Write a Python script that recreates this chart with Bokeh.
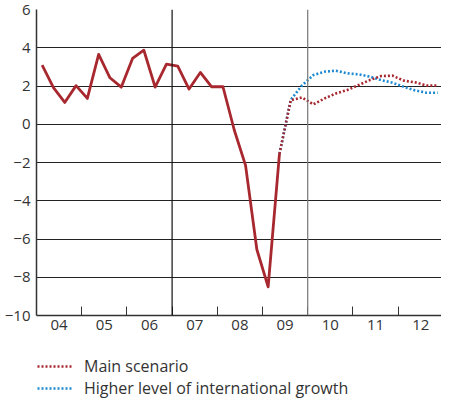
from bokeh.plotting import figure
from bokeh.layouts import column
from bokeh.models import Range1d, FixedTicker, Span, Legend, LegendItem
from bokeh.embed import file_html
from bokeh.resources import INLINE

# ---- data ----
years = ["04", "05", "06", "07", "08", "09", "10", "11", "12"]
first_year = 2004
# quarterly history 2004Q1 .. 2009Q2
history = [3.09, 1.91, 1.14, 2.02,
           1.35, 3.65, 2.43, 1.94,
           3.44, 3.87, 1.94, 3.14,
           3.04, 1.84, 2.71, 1.96,
           1.96, -0.30, -2.15, -6.55,
           -8.50, -1.55]
# forecasts 2009Q2 .. 2012Q4
main_scenario = [-1.55, 1.25, 1.40,
                 1.04, 1.35, 1.61, 1.79,
                 2.05, 2.31, 2.52, 2.54,
                 2.28, 2.19, 2.03, 2.03]
higher_growth = [-1.55, 1.28, 2.03,
                 2.57, 2.75, 2.80, 2.66,
                 2.61, 2.49, 2.31, 2.17,
                 1.96, 1.77, 1.65, 1.65]
series_names = ["Main scenario", "Higher level of international growth"]
forecast_start_index = 21  # 2009Q2
y_ticks = [-10, -8, -6, -4, -2, 0, 2, 4, 6]
separators = [2007, 2010]


def qx(i):
    return first_year + (i + 0.5) / 4.0


hist_x = [qx(i) for i in range(len(history))]
fc_x = [qx(forecast_start_index + i) for i in range(len(main_scenario))]

RED = "#a8282f"
BLUE = "#1f8ad2"
TXT = "#333333"
FONT = "Open Sans"

p = figure(width=441, height=345, output_backend="svg", toolbar_location=None,
           x_range=Range1d(2004, 2012.96), y_range=Range1d(-10, 6),
           min_border_left=36, min_border_right=0, min_border_top=9,
           min_border_bottom=30)
p.outline_line_color = None
p.background_fill_color = "white"
p.border_fill_color = "white"

# grid
p.xgrid.visible = False
p.ygrid.ticker = FixedTicker(ticks=y_ticks)
p.ygrid.grid_line_color = "#222222"
p.ygrid.grid_line_width = 1

for s, col in zip(separators, ["#111111", "#777777"]):
    p.add_layout(Span(location=s, dimension="height", line_color=col, line_width=1.2))

# axes
mid = [first_year + i + 0.5 for i in range(len(years))]
bounds = [first_year + i for i in range(1, len(years))]
p.xaxis.ticker = FixedTicker(ticks=mid, minor_ticks=bounds)
p.xaxis.major_label_overrides = {m: y for m, y in zip(mid, years)}
p.xaxis.major_tick_line_color = None
p.xaxis.major_tick_in = 0
p.xaxis.major_tick_out = 0
p.xaxis.minor_tick_in = 9
p.xaxis.minor_tick_out = 0
p.xaxis.minor_tick_line_color = "#333333"
p.xaxis.minor_tick_line_width = 1
p.xaxis.axis_line_color = "#333333"
p.xaxis.axis_line_width = 1.5
p.xaxis.major_label_standoff = 4

p.yaxis.ticker = FixedTicker(ticks=y_ticks)
p.yaxis.major_tick_line_color = None
p.yaxis.major_tick_in = 0
p.yaxis.major_tick_out = 0
p.yaxis.minor_tick_line_color = None
p.yaxis.minor_tick_out = 0
p.yaxis.axis_line_color = "#333333"
p.yaxis.axis_line_width = 1.5
p.yaxis.major_label_standoff = 6

for ax in (p.xaxis[0], p.yaxis[0]):
    ax.major_label_text_font = FONT
    ax.major_label_text_font_size = "15px"
    ax.major_label_text_color = TXT

# lines
p.line(fc_x, higher_growth, line_color=BLUE, line_width=2.6, line_dash="2 2")
p.line(fc_x, main_scenario, line_color=RED, line_width=2.6, line_dash="2 2")
p.line(hist_x, history, line_color=RED, line_width=2.8, line_join="round")

# legend in its own strip below the chart
lf = figure(width=441, height=54, output_backend="svg", toolbar_location=None,
            x_range=Range1d(0, 1), y_range=Range1d(0, 1),
            x_axis_type=None, y_axis_type=None,
            min_border_left=0, min_border_right=0, min_border_top=0, min_border_bottom=0)
lf.grid.visible = False
lf.outline_line_color = None
# proxy renderers (kept off-screen) so the legend can draw its samples
lm = lf.line([-5, -4], [-5, -4], line_color=RED, line_width=2.6, line_dash="2 2")
lh = lf.line([-5, -4], [-5, -4], line_color=BLUE, line_width=2.6, line_dash="2 2")
legend = Legend(items=[LegendItem(label=series_names[0], renderers=[lm]),
                       LegendItem(label=series_names[1], renderers=[lh])],
                location=(1, 0), orientation="vertical")
legend.border_line_color = None
legend.background_fill_alpha = 0
legend.padding = 0
legend.margin = 0
legend.spacing = 0
legend.glyph_width = 35
legend.glyph_height = 22
legend.label_height = 22
legend.label_standoff = 12
legend.label_text_font = FONT
legend.label_text_font_size = "16px"
legend.label_text_color = TXT
lf.add_layout(legend, "center")

layout = column(p, lf, spacing=0)
open("out.html", "w").write(file_html(layout, INLINE))
